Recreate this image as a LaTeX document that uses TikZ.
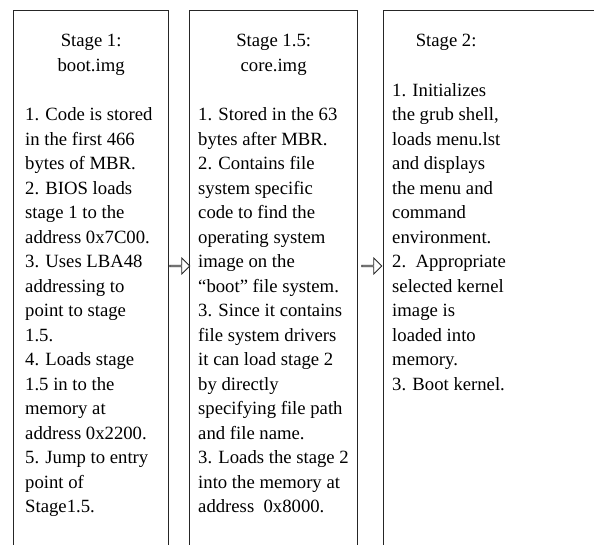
\documentclass[tikz,border=0pt]{standalone}
\usepackage{fontspec}
\setmainfont{Liberation Serif}
\usetikzlibrary{positioning,calc,shapes.arrows}
\tikzset{
  stagebox/.style={draw=black!85,line width=1.3pt,anchor=north west,
    inner sep=0pt,minimum height=560pt},
  stagetitle/.style={font=\fontsize{18.7}{24.5}\selectfont,align=center,
    anchor=north,inner sep=0pt},
  stagetext/.style={font=\fontsize{18.7}{24.5}\selectfont,align=left,
    anchor=north west,inner sep=0pt},
  harrow/.style={single arrow,draw=black!85,fill=white,line width=0.8pt,
    anchor=west,minimum height=20pt,minimum width=16pt,
    single arrow head extend=4pt,inner sep=0pt},
}
\begin{document}
\begin{tikzpicture}
  \useasboundingbox (0,0) rectangle (594pt,544pt);
  \clip (0,0) rectangle (594pt,544pt);
  \node[stagebox,minimum width=155pt] (b1) at (13pt,534pt) {};
  \node[stagebox,minimum width=168pt] (b2) at (189pt,534pt) {};
  \node[stagebox,minimum width=240pt] (b3) at (383pt,534pt) {};
  \node[stagetitle] (t1) at ([yshift=-24pt]b1.north) {Stage 1:\\boot.img};
  \node[stagetitle] (t2) at ([yshift=-24pt]b2.north) {Stage 1.5:\\core.img};
  \node[stagetitle] (t3) at ([yshift=-24pt,xshift=-57.5pt]b3.north) {Stage 2:};
  \node[stagetext] (x1) at ([xshift=12pt,yshift=-97.5pt]b1.north west)
    {1. Code is stored\\in the first 466\\bytes of MBR.\\2. BIOS loads\\
     stage 1 to the\\address 0x7C00.\\3. Uses LBA48\\addressing to\\
     point to stage\\1.5.\\4. Loads stage\\1.5 in to the\\memory at\\
     address 0x2200.\\5. Jump to entry\\point of\\Stage1.5.};
  \node[stagetext] (x2) at ([xshift=9pt,yshift=-97.5pt]b2.north west)
    {1. Stored in the 63\\bytes after MBR.\\2. Contains file\\
     system specific\\code to find the\\operating system\\image on the\\
     “boot” file system.\\3. Since it contains\\file system drivers\\
     it can load stage 2\\by directly\\specifying file path\\and file name.\\
     3. Loads the stage 2\\into the memory at\\address\ \ 0x8000.};
  \node[stagetext] (x3) at ([xshift=9pt,yshift=-73pt]b3.north west)
    {1. Initializes\\the grub shell,\\loads menu.lst\\and displays\\
     the menu and\\command\\environment.\\2.\ \ Appropriate\\
     selected kernel\\image is\\loaded into\\memory.\\3. Boot kernel.};
  \node[harrow] (a1) at ([yshift=-256pt]b1.north east) {};
  \node[harrow] (a2) at ([xshift=3pt,yshift=-256pt]b2.north east) {};
\end{tikzpicture}
\end{document}
